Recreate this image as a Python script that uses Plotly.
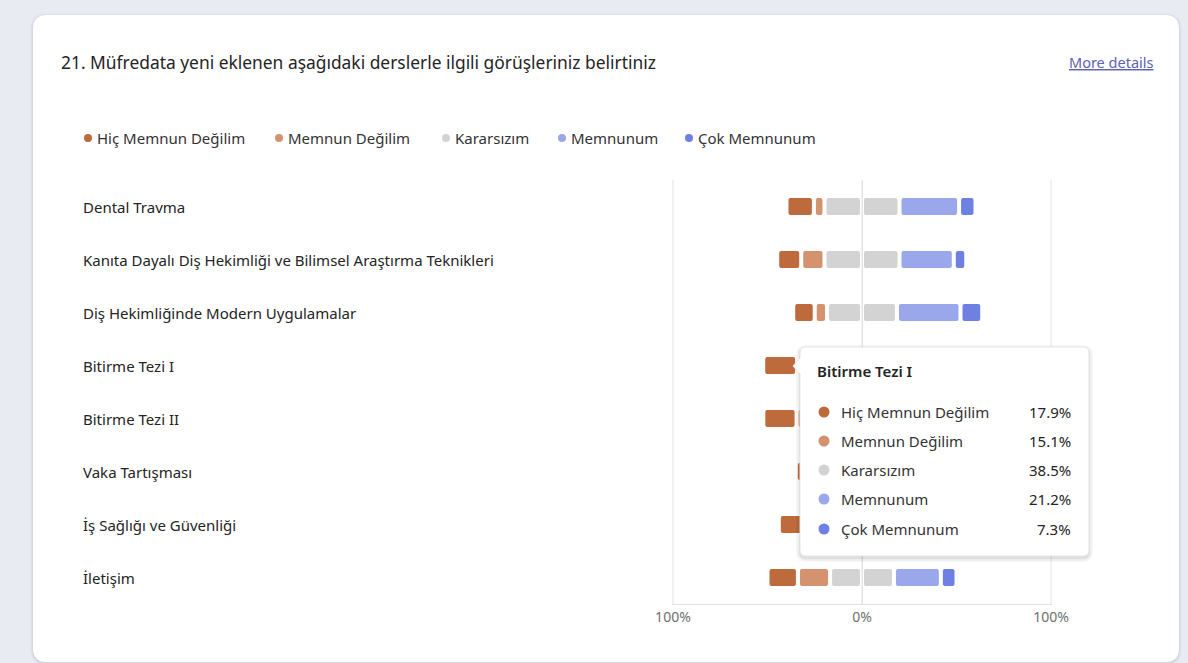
import plotly.graph_objects as go

# ---- data -------------------------------------------------------------
courses = [
    "Dental Travma",
    "Kanıta Dayalı Diş Hekimliği ve Bilimsel Araştırma Teknikleri",
    "Diş Hekimliğinde Modern Uygulamalar",
    "Bitirme Tezi I",
    "Bitirme Tezi II",
    "Vaka Tartışması",
    "İş Sağlığı ve Güvenliği",
    "İletişim",
]
series_names = ["Hiç Memnun Değilim", "Memnun Değilim", "Kararsızım", "Memnunum", "Çok Memnunum"]
series_colors = ["#bd6a3d", "#d4926e", "#d3d3d3", "#9aa8eb", "#6e81e2"]

hic_memnun_degilim = [14.5, 12.7, 11.4, 17.9, 17.6, 10.0, 13.5, 16.1]
memnun_degilim = [5.6, 12.3, 6.5, 15.1, 14.6, 8.0, 11.0, 17.0]
kararsizim = [39.7, 39.7, 37.0, 38.5, 40.0, 34.0, 39.0, 33.8]
memnunum = [31.5, 28.7, 33.6, 21.2, 20.8, 35.0, 28.5, 24.8]
cok_memnunum = [8.7, 6.6, 11.5, 7.3, 7.0, 13.0, 8.0, 8.3]

tick_vals = [-100, 0, 100]
tick_text = ["100%", "0%", "100%"]

tooltip_course = "Bitirme Tezi I"

# ---- geometry (pixels of the 1188x663 page) ---------------------------
W, H = 1188, 663
L, R, T, B = 672, 1052, 180, 604
XR = 100.5                      # axis half-range
GAP = 4 * 2 * XR / (R - L)      # 4px white gap between segments, in % units
FONT = "Noto Sans"
GRID = "#e3e3e3"


def px(x):
    return (x - L) / (R - L)


def py(y):
    return (B - y) / (B - T)


def path(points, close=True):
    s = ""
    for i, p in enumerate(points):
        if p[0] == "Q":
            _, cx, cy, x, y = p
            s += f" Q {px(cx):.5f},{py(cy):.5f} {px(x):.5f},{py(y):.5f}"
        else:
            x, y = p
            s += (" M " if i == 0 else " L ") + f"{px(x):.5f},{py(y):.5f}"
    return s + (" Z" if close else "")


def rounded_rect(x0, y0, x1, y1, r):
    return path([
        (x0 + r, y0), (x1 - r, y0), ("Q", x1, y0, x1, y0 + r),
        (x1, y1 - r), ("Q", x1, y1, x1 - r, y1),
        (x0 + r, y1), ("Q", x0, y1, x0, y1 - r),
        (x0, y0 + r), ("Q", x0, y0, x0 + r, y0),
    ])


fig = go.Figure()

# ---- diverging segments ---------------------------------------------
half_neutral = [k / 2 for k in kararsizim]
neg_md_outer = [m + h for m, h in zip(memnun_degilim, half_neutral)]
pos_m_outer = [m + h for m, h in zip(memnunum, half_neutral)]

segments = [
    # (series index, inner edge, length, direction)
    (0, [-v for v in neg_md_outer], hic_memnun_degilim, -1),
    (1, [-v for v in half_neutral], memnun_degilim, -1),
    (2, [0] * len(courses), half_neutral, -1),
    (2, [0] * len(courses), half_neutral, 1),
    (3, half_neutral, memnunum, 1),
    (4, pos_m_outer, cok_memnunum, 1),
]

for idx, inner, length, sign in segments:
    base = [b + sign * GAP / 2 for b in inner]
    xs = [sign * max(v - GAP, 0) for v in length]
    fig.add_trace(go.Bar(
        y=courses, x=xs, base=base, orientation="h",
        width=0.32, name=series_names[idx], showlegend=False,
        marker=dict(color=series_colors[idx], line=dict(width=0), cornerradius=2),
        hoverinfo="skip",
    ))

shapes = []
annotations = []

# ---- card -------------------------------------------------------------
for i, a in enumerate([0.025, 0.035, 0.05]):
    d = 3 - i
    shapes.append(dict(type="path", xref="paper", yref="paper", layer="below",
                       path=rounded_rect(33 - d, 15 - d + 1, 1179 + d, 662 + d + 1, 14 + d),
                       fillcolor=f"rgba(60,70,100,{a})", line=dict(width=0)))
shapes.append(dict(type="path", xref="paper", yref="paper", layer="below",
                   path=rounded_rect(33, 15, 1179, 662, 14),
                   fillcolor="#ffffff", line=dict(width=0)))

# vertical guides at every tick (drawn over the card, under the bars)
for v in tick_vals:
    shapes.append(dict(type="line", xref="x", yref="paper", layer="below",
                       x0=v, x1=v, y0=0, y1=1, line=dict(color=GRID, width=1)))

# ---- header -----------------------------------------------------------
annotations.append(dict(
    xref="paper", yref="paper", x=px(59), y=py(62), xanchor="left", yanchor="middle",
    text="21. Müfredata yeni eklenen aşağıdaki derslerle ilgili görüşleriniz belirtiniz",
    showarrow=False, font=dict(family=FONT, size=17.4, color="#242424")))
annotations.append(dict(
    xref="paper", yref="paper", x=px(1156), y=py(62), xanchor="right", yanchor="middle",
    text="<span style='text-decoration:underline'>More details</span>",
    showarrow=False, font=dict(family=FONT, size=14.5, color="#5c63b3")))

# ---- legend -------------------------------------------------------------
legend_x = [88, 279, 446, 562, 689]
for name, col, x in zip(series_names, series_colors, legend_x):
    shapes.append(dict(type="circle", xref="paper", yref="paper", layer="above",
                       x0=px(x - 4), x1=px(x + 4), y0=py(138 - 4), y1=py(138 + 4),
                       fillcolor=col, line=dict(width=0)))
    annotations.append(dict(
        xref="paper", yref="paper", x=px(x + 7), y=py(138), xanchor="left", yanchor="middle",
        text=name, showarrow=False, font=dict(family=FONT, size=15, color="#333333")))

# ---- category labels ----------------------------------------------------
for c in courses:
    annotations.append(dict(
        xref="paper", yref="y", x=px(81), y=c, xanchor="left", yanchor="middle",
        text=c, showarrow=False, font=dict(family=FONT, size=15, color="#242424")))

# ---- hover card for one course ------------------------------------------
ti = courses.index(tooltip_course)
tip_vals = [hic_memnun_degilim[ti], memnun_degilim[ti], kararsizim[ti], memnunum[ti], cok_memnunum[ti]]
tx0, ty0, tx1, ty1, tr = 800, 347, 1089, 556, 6
for i, a in enumerate([0.03, 0.04, 0.06]):
    d = 4 - i * 1.5
    shapes.append(dict(type="path", xref="paper", yref="paper", layer="above",
                       path=rounded_rect(tx0 - d, ty0 - d + 2, tx1 + d, ty1 + d + 2, tr + d),
                       fillcolor=f"rgba(0,0,0,{a})", line=dict(width=0)))
tip_path = path([
    (tx0 + tr, ty0), (tx1 - tr, ty0), ("Q", tx1, ty0, tx1, ty0 + tr),
    (tx1, ty1 - tr), ("Q", tx1, ty1, tx1 - tr, ty1),
    (tx0 + tr, ty1), ("Q", tx0, ty1, tx0, ty1 - tr),
    (tx0, 374), (793, 366), (tx0, 358),
    (tx0, ty0 + tr), ("Q", tx0, ty0, tx0 + tr, ty0),
])
shapes.append(dict(type="path", xref="paper", yref="paper", layer="above", path=tip_path,
                   fillcolor="#ffffff", line=dict(color="#e6e6e6", width=1)))
annotations.append(dict(
    xref="paper", yref="paper", x=px(815), y=py(371), xanchor="left", yanchor="middle",
    text=tooltip_course, showarrow=False,
    font=dict(family=FONT, size=15, color="#242424", weight=600)))
row_y = [412, 441, 470, 499, 529]
for name, col, v, yy in zip(series_names, series_colors, tip_vals, row_y):
    shapes.append(dict(type="circle", xref="paper", yref="paper", layer="above",
                       x0=px(824 - 5.5), x1=px(824 + 5.5), y0=py(yy - 5.5), y1=py(yy + 5.5),
                       fillcolor=col, line=dict(width=0)))
    annotations.append(dict(
        xref="paper", yref="paper", x=px(839), y=py(yy), xanchor="left", yanchor="middle",
        text=name, showarrow=False, font=dict(family=FONT, size=15, color="#333333")))
    annotations.append(dict(
        xref="paper", yref="paper", x=px(1073), y=py(yy), xanchor="right", yanchor="middle",
        text=f"{v:.1f}%", showarrow=False, font=dict(family=FONT, size=15, color="#242424")))

fig.update_layout(
    width=W, height=H,
    margin=dict(l=L, r=W - R, t=T, b=H - B, pad=0),
    paper_bgcolor="#e8ebf2", plot_bgcolor="rgba(0,0,0,0)",
    barmode="overlay", showlegend=False,
    shapes=shapes, annotations=annotations,
    xaxis=dict(range=[-XR, XR], tickvals=tick_vals, ticktext=tick_text,
               showgrid=True, gridcolor=GRID, gridwidth=1, zeroline=False,
               showline=True, linecolor=GRID, linewidth=1, ticks="",
               tickfont=dict(family=FONT, size=14, color="#6f6f6f"),
               fixedrange=True),
    yaxis=dict(categoryorder="array", categoryarray=courses, autorange="reversed",
               showticklabels=False, showgrid=False, zeroline=False, ticks="",
               fixedrange=True),
    font=dict(family=FONT),
)

fig.write_html("out.html", config={"displayModeBar": False})
